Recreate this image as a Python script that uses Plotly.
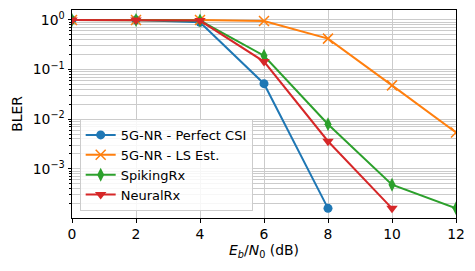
import plotly.graph_objects as go

snr = [0, 2, 4, 6, 8, 10, 12]
perfect_csi = [1.0, 1.0, 0.9, 0.052, 1.6e-4]
ls_est = [1.0, 1.0, 1.0, 0.95, 0.42, 0.048, 0.0054]
spiking_rx = [1.0, 1.0, 0.97, 0.19, 0.0079, 4.8e-4, 1.6e-4]
neural_rx = [1.0, 1.0, 0.97, 0.145, 0.0036, 1.6e-4]

names = ["5G-NR - Perfect CSI", "5G-NR - LS Est.", "SpikingRx", "NeuralRx"]
colors = ["#1f77b4", "#ff7f0e", "#2ca02c", "#d62728"]

y_tickvals = [1, 0.1, 0.01, 0.001]
y_ticktext = ["10<sup>0</sup>", "10<sup>\u22121</sup>", "10<sup>\u22122</sup>", "10<sup>\u22123</sup>"]
minor_vals = [d * 10.0 ** e for e in range(-4, 1) for d in range(2, 10)]

FONT = "DejaVu Sans"
FS = 13.9
grid = "#cbcbcb"

fig = go.Figure()
series = [perfect_csi, ls_est, spiking_rx, neural_rx]
symbols = ["circle", "x-thin-open", "diamond-tall", "triangle-down"]
sizes = [9, 10, 10, 10]
for name, vals, col, sym, sz in zip(names, series, colors, symbols, sizes):
    fig.add_trace(go.Scatter(
        x=snr[:len(vals)], y=vals, name=name, mode="lines+markers",
        line=dict(color=col, width=2),
        marker=dict(symbol=sym, size=sz, color=col,
                    line=dict(color=col, width=1.5 if sym == "x-thin-open" else 0)),
    ))

fig.update_layout(
    width=475, height=271,
    margin=dict(l=72, r=19, t=10, b=53),
    paper_bgcolor="white", plot_bgcolor="white",
    font=dict(family=FONT, size=FS, color="black"),
    showlegend=True,
    legend=dict(
        x=0.02, y=0.034, xanchor="left", yanchor="bottom",
        bgcolor="rgba(255,255,255,0.85)", bordercolor="#cccccc", borderwidth=1,
        font=dict(family=FONT, size=13, color="black"),
        tracegroupgap=0, itemwidth=30,
    ),
)
fig.update_xaxes(
    range=[0, 12], dtick=2, tick0=0, automargin=False,
    showgrid=True, gridcolor=grid, gridwidth=1,
    showline=True, linecolor="black", linewidth=1, mirror=True,
    ticks="outside", ticklen=3.5, tickcolor="black",
    tickfont=dict(family=FONT, size=FS),
    zeroline=False,
    title=dict(text="<i>E<sub>b</sub></i>/<i>N</i><sub>0</sub> (dB)",
               font=dict(family=FONT, size=FS), standoff=4),
)
fig.update_yaxes(
    type="log", range=[-3.99, 0.2], automargin=False,
    tickmode="array", tickvals=y_tickvals, ticktext=y_ticktext,
    showgrid=True, gridcolor=grid, gridwidth=1,
    showline=True, linecolor="black", linewidth=1, mirror=True,
    ticks="outside", ticklen=3.5, tickcolor="black",
    tickfont=dict(family=FONT, size=FS),
    zeroline=False,
    minor=dict(tickmode="array", tickvals=minor_vals, ticks="outside", ticklen=2,
               tickcolor="black", showgrid=True, gridcolor=grid, gridwidth=1),
    title=dict(text="BLER", font=dict(family=FONT, size=FS), standoff=6),
)

fig.write_html(
    "out.html",
    config={"displayModeBar": False},
    post_script="document.body.style.margin='0';document.body.style.overflow='hidden';",
)
